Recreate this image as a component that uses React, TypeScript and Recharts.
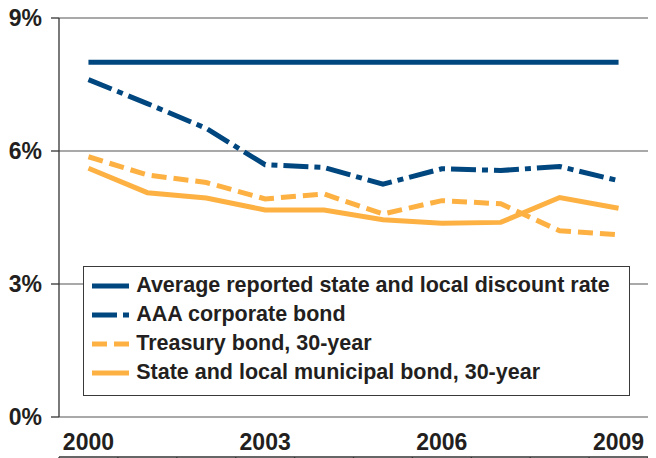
import React from 'react';
import { LineChart, Line, XAxis, YAxis, CartesianGrid, Legend } from 'recharts';

const years = [2000, 2001, 2002, 2003, 2004, 2005, 2006, 2007, 2008, 2009];
const discountRate = [8, 8, 8, 8, 8, 8, 8, 8, 8, 8];
const aaaCorporate = [7.61, 7.07, 6.51, 5.69, 5.63, 5.25, 5.6, 5.56, 5.65, 5.33];
const treasury30 = [5.87, 5.46, 5.29, 4.92, 5.03, 4.58, 4.88, 4.81, 4.2, 4.11];
const municipal30 = [5.61, 5.06, 4.94, 4.67, 4.67, 4.45, 4.37, 4.39, 4.95, 4.71];

const yTicks = [0, 3, 6, 9];
const xLabelTicks = [2000, 2003, 2006, 2009];
const xBoundaryTicks = [...years.map((y) => y - 0.5), years[years.length - 1] + 0.5];

const seriesNames = [
  'Average reported state and local discount rate',
  'AAA corporate bond',
  'Treasury bond, 30-year',
  'State and local municipal bond, 30-year',
];

const BLUE = '#00467F';
const ORANGE = '#FDB143';
const TEXT = '#231f20';
const FONT = "'Liberation Sans', Arial, sans-serif";

const series = [
  { key: 'discount', name: seriesNames[0], color: BLUE, dash: undefined as string | undefined },
  { key: 'aaa', name: seriesNames[1], color: BLUE, dash: '25 6 6 6' },
  { key: 'treasury', name: seriesNames[2], color: ORANGE, dash: '15 7' },
  { key: 'muni', name: seriesNames[3], color: ORANGE, dash: undefined as string | undefined },
];

const data = years.map((year, i) => ({
  year,
  discount: discountRate[i],
  aaa: aaaCorporate[i],
  treasury: treasury30[i],
  muni: municipal30[i],
}));

const LegendBox = (props: any) => {
  const payload: any[] = props.payload || [];
  const ordered = [...payload].sort(
    (a, b) => seriesNames.indexOf(a.value) - seriesNames.indexOf(b.value)
  );
  return (
    <div
      style={{
        boxSizing: 'border-box',
        width: 547,
        height: 130,
        border: '1.5px solid #3a3a3a',
        background: '#fff',
        padding: '4px 0 0 8.5px',
      }}
    >
      {ordered.map((entry) => {
        const s = series.find((x) => x.name === entry.value);
        return (
          <div
            key={entry.value}
            style={{ display: 'flex', alignItems: 'center', height: 29 }}
          >
            <svg width={37} height={6} style={{ display: 'block' }}>
              <line
                x1={0}
                x2={37}
                y1={3}
                y2={3}
                stroke={s ? s.color : entry.color}
                strokeWidth={5}
                strokeDasharray={s ? s.dash : undefined}
              />
            </svg>
            <span
              style={{
                marginLeft: 7,
                fontFamily: FONT,
                fontWeight: 'bold',
                fontSize: 21.5,
                color: TEXT,
                whiteSpace: 'nowrap',
                lineHeight: '29px',
              }}
            >
              {entry.value}
            </span>
          </div>
        );
      })}
    </div>
  );
};

export default function App() {
  const tickStyle = { fontFamily: FONT, fontWeight: 'bold' as const, fontSize: 23, fill: TEXT };
  return (
    <LineChart
      width={648}
      height={450}
      data={data}
      margin={{ top: 10, right: 8, left: 0, bottom: 0 }}
      style={{ overflow: 'visible' }}
    >
      <CartesianGrid vertical={false} stroke="#8c8c8c" strokeWidth={1.3} />
      <YAxis
        type="number"
        domain={[0, 9]}
        ticks={yTicks}
        width={51}
        tickFormatter={(v: number) => `${v}%`}
        tick={tickStyle}
        tickSize={8}
        tickMargin={9}
        axisLine={{ stroke: '#333', strokeWidth: 1.3 }}
        tickLine={{ stroke: '#333', strokeWidth: 1.3 }}
        interval={0}
      />
      <XAxis
        xAxisId="marks"
        dataKey="year"
        type="number"
        domain={[1999.5, 2009.5]}
        allowDataOverflow
        ticks={xBoundaryTicks}
        interval={0}
        tickFormatter={() => ''}
        tickSize={8}
        height={1}
        axisLine={{ stroke: '#333', strokeWidth: 1.3 }}
        tickLine={{ stroke: '#333', strokeWidth: 1.3 }}
      />
      <XAxis
        dataKey="year"
        type="number"
        domain={[1999.5, 2009.5]}
        allowDataOverflow
        ticks={xLabelTicks}
        interval={0}
        tick={tickStyle}
        tickSize={0}
        tickMargin={17}
        height={40}
        axisLine={false}
        tickLine={false}
      />
      <Legend
        layout="vertical"
        align="center"
        verticalAlign="middle"
        content={<LegendBox />}
        wrapperStyle={{ left: 74.7, top: 258, width: 547, height: 130 }}
      />
      {series.map((s) => (
        <Line
          key={s.key}
          type="linear"
          dataKey={s.key}
          name={s.name}
          stroke={s.color}
          strokeWidth={5}
          strokeDasharray={s.dash}
          dot={false}
          activeDot={false}
          isAnimationActive={false}
        />
      ))}
    </LineChart>
  );
}
